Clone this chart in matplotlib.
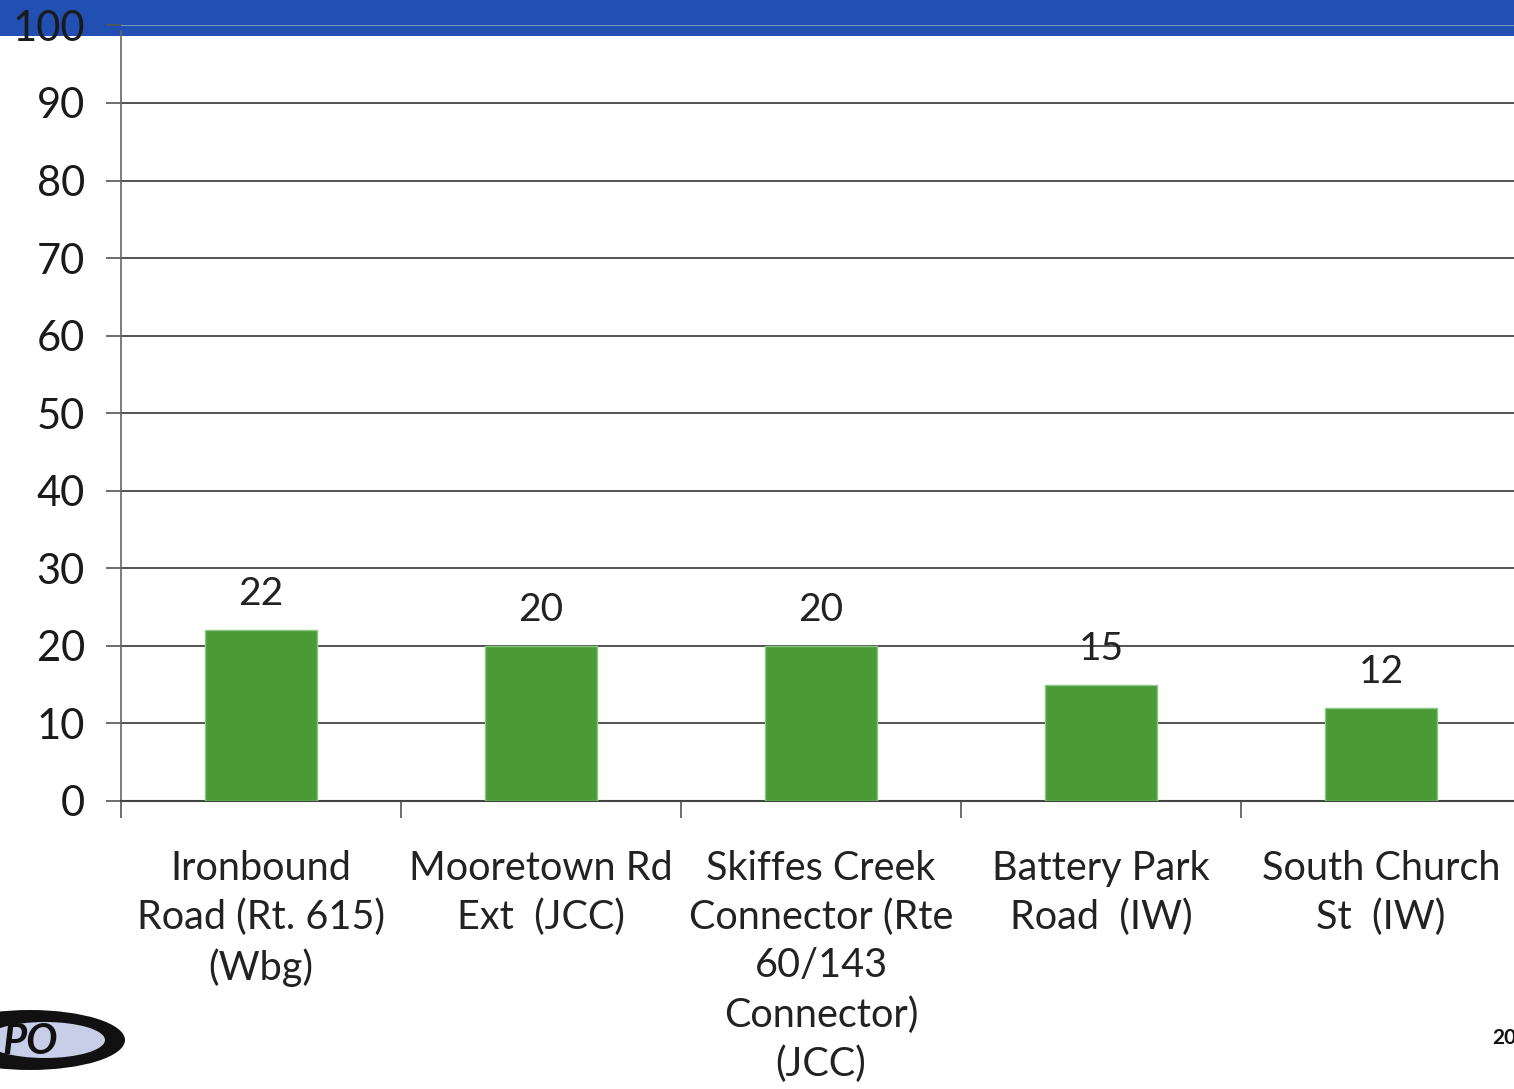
import matplotlib
matplotlib.use("Agg")
import matplotlib.pyplot as plt
from matplotlib.patches import Rectangle, Ellipse

categories = [
    "Ironbound\nRoad (Rt. 615)\n(Wbg)",
    "Mooretown Rd\nExt  (JCC)",
    "Skiffes Creek\nConnector (Rte\n60/143\nConnector)\n(JCC)",
    "Battery Park\nRoad  (IW)",
    "South Church\nSt  (IW)",
]
values = [22, 20, 20, 15, 12]
value_labels = ["22", "20", "20", "15", "12"]
yticks = [0, 10, 20, 30, 40, 50, 60, 70, 80, 90, 100]

plt.rcParams['font.family'] = ['Lato', 'DejaVu Sans']

W, H = 1514, 1089
fig = plt.figure(figsize=(W / 100, H / 100), dpi=100)
fig.patch.set_facecolor("white")

# blue header band
band = Rectangle((0, 1 - 36 / H), 1, 36 / H, transform=fig.transFigure,
                 facecolor="#2150b2", edgecolor="none", zorder=-5)
fig.patches.append(band)

left = 121 / W
right = 1521 / W
bottom = (H - 801) / H
top = (H - 25.4) / H
ax = fig.add_axes([left, bottom, right - left, top - bottom])
ax.set_zorder(2)
ax.patch.set_alpha(0)

x = list(range(len(categories)))
ax.bar(x, values, width=0.4, color="#4a9a37", edgecolor="#8cc784", linewidth=1.0, zorder=3)

for xi, v, lab in zip(x, values, value_labels):
    ax.annotate(lab, (xi, v), xytext=(0, 26), textcoords="offset points",
                ha="center", va="center", fontsize=28, color="#222222", zorder=4)

ax.set_xlim(-0.5, len(categories) - 0.5)
ax.set_ylim(0, 100)
ax.set_yticks(yticks)
ax.set_yticklabels([str(t) for t in yticks], fontsize=30, color="#1a1a1a")
ax.yaxis.grid(True, color="#444444", linewidth=1.3, zorder=1)
ax.get_ygridlines()[-1].set_color("#8a9cc8")
ax.set_axisbelow(True)
ax.tick_params(axis="y", length=11, width=1.2, color="#555555", pad=15)

ax.set_xticks(x)
ax.set_xticklabels(categories, fontsize=28.5, color="#222222", linespacing=1.38)
ax.set_xticks([i - 0.5 for i in range(len(categories) + 1)], minor=True)
ax.tick_params(axis="x", which="major", length=0, pad=35)
ax.tick_params(axis="x", which="minor", length=12, width=1.2, color="#555555")

for s in ["top", "right"]:
    ax.spines[s].set_visible(False)
ax.spines["left"].set_color("#666666")
ax.spines["left"].set_linewidth(1.2)
ax.spines["left"].set_bounds(0, 99.3)
ax.spines["bottom"].set_color("#444444")
ax.spines["bottom"].set_linewidth(1.5)

# logo fragment bottom-left
fig.patches.append(Ellipse((30 / W, (H - 1040) / H), 190 / W, 60 / H, transform=fig.transFigure,
                           facecolor="#111111", edgecolor="none"))
fig.patches.append(Ellipse((45 / W, (H - 1040) / H), 120 / W, 36 / H, transform=fig.transFigure,
                           facecolor="#c8cde8", edgecolor="none"))
fig.text(2 / W, (H - 1042) / H, "PO", fontsize=30, fontweight="bold", fontstyle="italic",
         color="#111111", va="center", ha="left")
fig.text(1492 / W, (H - 1038) / H, "20", fontsize=15, fontweight="bold",
         color="#111111", va="center", ha="left")

fig.savefig("out.png", dpi=100, facecolor="white")
